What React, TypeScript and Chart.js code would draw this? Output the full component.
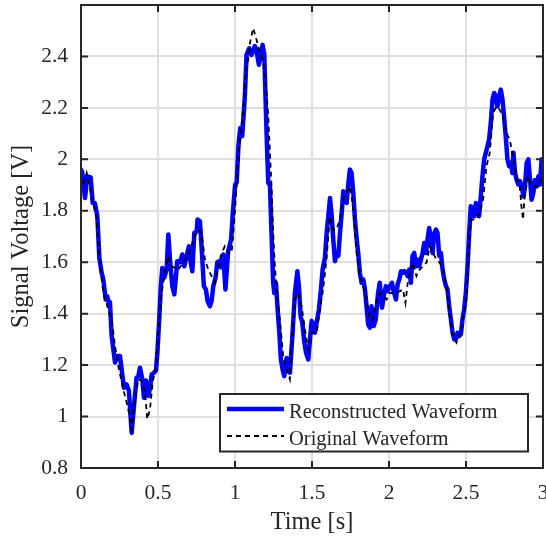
import React, { useEffect, useRef } from "react";
import { Chart, registerables } from "chart.js";

Chart.register(...registerables);

// ---- data ----
const seriesLabels = ["Reconstructed Waveform", "Original Waveform"];
const xTitle = "Time [s]";
const yTitle = "Signal Voltage [V]";
const xTicks = [0, 0.5, 1, 1.5, 2, 2.5, 3];
const yTicks = [0.8, 1, 1.2, 1.4, 1.6, 1.8, 2, 2.2, 2.4];

// [time s, voltage V]
const reconstructed: [number, number][] = [
  [0, 1.96], [0.008, 1.95], [0.026, 1.85], [0.041, 1.934], [0.063, 1.93], [0.076, 1.83], [0.09, 1.83], [0.106, 1.78],
  [0.119, 1.617], [0.134, 1.559], [0.145, 1.533], [0.16, 1.455], [0.17, 1.468], [0.18, 1.442], [0.188, 1.445], [0.199, 1.313],
  [0.221, 1.21], [0.236, 1.235], [0.253, 1.235], [0.264, 1.183], [0.279, 1.112], [0.296, 1.125], [0.311, 1.1], [0.329, 0.937],
  [0.344, 1.041], [0.361, 1.151], [0.372, 1.155], [0.383, 1.19], [0.398, 1.145], [0.409, 1.073], [0.422, 1.14], [0.437, 1.08],
  [0.448, 1.11], [0.459, 1.164], [0.474, 1.17], [0.487, 1.18], [0.496, 1.248], [0.509, 1.39], [0.517, 1.494], [0.528, 1.578],
  [0.541, 1.54], [0.556, 1.572], [0.567, 1.708], [0.578, 1.61], [0.593, 1.507], [0.606, 1.475], [0.617, 1.546], [0.625, 1.604],
  [0.643, 1.6], [0.658, 1.63], [0.671, 1.584], [0.686, 1.625], [0.701, 1.662], [0.712, 1.6], [0.723, 1.565], [0.736, 1.714],
  [0.751, 1.72], [0.757, 1.766], [0.772, 1.76], [0.783, 1.66], [0.798, 1.507], [0.811, 1.494], [0.822, 1.449], [0.837, 1.429],
  [0.848, 1.449], [0.859, 1.507], [0.874, 1.54], [0.885, 1.6], [0.898, 1.604], [0.91, 1.58], [0.924, 1.63], [0.938, 1.494],
  [0.955, 1.64], [0.975, 1.69], [0.986, 1.792], [1.001, 1.902], [1.011, 1.91], [1.022, 2.05], [1.034, 2.122], [1.047, 2.09],
  [1.064, 2.245], [1.075, 2.406], [1.092, 2.432], [1.107, 2.406], [1.129, 2.44], [1.139, 2.425], [1.155, 2.368], [1.166, 2.4],
  [1.179, 2.445], [1.19, 2.41], [1.205, 2.103], [1.216, 1.908], [1.227, 1.9], [1.237, 1.714], [1.248, 1.52], [1.255, 1.48],
  [1.266, 1.52], [1.277, 1.416], [1.288, 1.326], [1.298, 1.222], [1.309, 1.183], [1.32, 1.157], [1.335, 1.228], [1.346, 1.183],
  [1.357, 1.17], [1.374, 1.326], [1.389, 1.48], [1.405, 1.565], [1.415, 1.507], [1.426, 1.39], [1.437, 1.365], [1.448, 1.3],
  [1.461, 1.248], [1.476, 1.222], [1.487, 1.3], [1.498, 1.372], [1.509, 1.352], [1.519, 1.326], [1.53, 1.365], [1.545, 1.416],
  [1.558, 1.494], [1.569, 1.572], [1.584, 1.617], [1.595, 1.714], [1.606, 1.779], [1.617, 1.85], [1.628, 1.779], [1.638, 1.69],
  [1.649, 1.604], [1.66, 1.636], [1.671, 1.625], [1.682, 1.714], [1.693, 1.792], [1.703, 1.876], [1.714, 1.856], [1.725, 1.83],
  [1.735, 1.9], [1.746, 1.96], [1.757, 1.947], [1.768, 1.87], [1.779, 1.766], [1.79, 1.69], [1.8, 1.636], [1.811, 1.559],
  [1.822, 1.52], [1.833, 1.533], [1.844, 1.494], [1.854, 1.429], [1.865, 1.358], [1.876, 1.345], [1.886, 1.429], [1.901, 1.352],
  [1.914, 1.377], [1.929, 1.48], [1.94, 1.52], [1.955, 1.423], [1.968, 1.475], [1.98, 1.507], [1.991, 1.488], [2.006, 1.507],
  [2.019, 1.52], [2.03, 1.488], [2.045, 1.455], [2.056, 1.514], [2.067, 1.533], [2.078, 1.565], [2.088, 1.559], [2.099, 1.565],
  [2.11, 1.559], [2.121, 1.546], [2.132, 1.572], [2.142, 1.52], [2.153, 1.625], [2.164, 1.636], [2.175, 1.584], [2.186, 1.61],
  [2.196, 1.584], [2.207, 1.61], [2.218, 1.636], [2.229, 1.675], [2.24, 1.636], [2.25, 1.688], [2.261, 1.733], [2.272, 1.688],
  [2.283, 1.636], [2.294, 1.714], [2.305, 1.727], [2.315, 1.714], [2.326, 1.625], [2.337, 1.636], [2.348, 1.572], [2.359, 1.533],
  [2.37, 1.507], [2.38, 1.494], [2.391, 1.429], [2.402, 1.377], [2.413, 1.326], [2.424, 1.3], [2.434, 1.3], [2.445, 1.326],
  [2.456, 1.313], [2.467, 1.32], [2.477, 1.377], [2.488, 1.416], [2.499, 1.48], [2.51, 1.584], [2.521, 1.714], [2.531, 1.818],
  [2.542, 1.792], [2.553, 1.779], [2.564, 1.83], [2.575, 1.792], [2.585, 1.779], [2.596, 1.856], [2.607, 1.934], [2.618, 2.0],
  [2.629, 2.026], [2.639, 2.05], [2.65, 2.077], [2.661, 2.141], [2.672, 2.232], [2.683, 2.258], [2.693, 2.245], [2.704, 2.206],
  [2.715, 2.245], [2.726, 2.271], [2.737, 2.232], [2.747, 2.167], [2.758, 2.09], [2.769, 2.0], [2.78, 1.973], [2.791, 1.986],
  [2.801, 1.947], [2.808, 2.026], [2.819, 1.947], [2.829, 1.92], [2.84, 1.902], [2.851, 1.915], [2.862, 1.895], [2.873, 1.856],
  [2.883, 1.895], [2.894, 1.986], [2.905, 2.0], [2.916, 1.92], [2.926, 1.843], [2.937, 1.869], [2.948, 1.92], [2.959, 1.895],
  [2.97, 1.934], [2.98, 1.902], [2.991, 2.0], [3.0, 1.986],
];

const original: [number, number][] = [
  [0, 1.921], [0.011, 1.895], [0.037, 1.947], [0.069, 1.856], [0.102, 1.766], [0.123, 1.598], [0.145, 1.481], [0.177, 1.416],
  [0.199, 1.377], [0.221, 1.274], [0.242, 1.196], [0.275, 1.106], [0.307, 1.028], [0.329, 0.95], [0.35, 1.067], [0.372, 1.145],
  [0.394, 1.138], [0.415, 1.1], [0.43, 0.99], [0.448, 1.028], [0.465, 1.132], [0.487, 1.196], [0.502, 1.326], [0.524, 1.481],
  [0.545, 1.559], [0.567, 1.623], [0.588, 1.584], [0.61, 1.578], [0.632, 1.572], [0.664, 1.598], [0.697, 1.623], [0.729, 1.688],
  [0.761, 1.727], [0.783, 1.714], [0.805, 1.61], [0.826, 1.572], [0.848, 1.546], [0.87, 1.52], [0.891, 1.584], [0.913, 1.636],
  [0.934, 1.662], [0.956, 1.636], [0.978, 1.636], [0.989, 1.714], [0.999, 1.792], [1.01, 1.895], [1.032, 2.077], [1.053, 2.193],
  [1.075, 2.361], [1.086, 2.387], [1.097, 2.452], [1.118, 2.51], [1.14, 2.465], [1.162, 2.413], [1.183, 2.387], [1.205, 2.258],
  [1.216, 2.167], [1.226, 2.038], [1.237, 1.895], [1.248, 1.714], [1.259, 1.584], [1.27, 1.494], [1.291, 1.377], [1.313, 1.235],
  [1.335, 1.183], [1.356, 1.145], [1.367, 1.261], [1.389, 1.455], [1.41, 1.481], [1.432, 1.429], [1.454, 1.339], [1.475, 1.261],
  [1.497, 1.326], [1.53, 1.326], [1.551, 1.416], [1.572, 1.494], [1.594, 1.61], [1.616, 1.779], [1.637, 1.727], [1.659, 1.727],
  [1.681, 1.766], [1.702, 1.843], [1.724, 1.869], [1.746, 1.895], [1.767, 1.818], [1.789, 1.636], [1.811, 1.546], [1.832, 1.507],
  [1.854, 1.455], [1.875, 1.377], [1.897, 1.377], [1.919, 1.455], [1.94, 1.481], [1.962, 1.468], [1.984, 1.455], [2.005, 1.481],
  [2.027, 1.481], [2.049, 1.481], [2.091, 1.494], [2.107, 1.442], [2.124, 1.533], [2.157, 1.598], [2.178, 1.546], [2.2, 1.572],
  [2.221, 1.584], [2.243, 1.598], [2.265, 1.662], [2.286, 1.636], [2.308, 1.61], [2.33, 1.598], [2.351, 1.572], [2.373, 1.507],
  [2.395, 1.39], [2.416, 1.313], [2.438, 1.287], [2.459, 1.313], [2.481, 1.377], [2.503, 1.455], [2.524, 1.714], [2.535, 1.766],
  [2.568, 1.766], [2.589, 1.792], [2.611, 1.843], [2.633, 1.973], [2.654, 2.025], [2.676, 2.18], [2.698, 2.206], [2.719, 2.193],
  [2.741, 2.167], [2.762, 2.103], [2.784, 2.077], [2.805, 2.012], [2.827, 1.934], [2.849, 1.895], [2.86, 1.818], [2.87, 1.766],
  [2.881, 1.856], [2.903, 1.934], [2.925, 1.895], [2.946, 1.895], [2.968, 1.895], [2.99, 1.921], [3.0, 1.934],
];

const FONT = '"Liberation Serif", "Times New Roman", serif';
const INK = "#262626";
const BLUE = "#0000ff";
const DASH = [5, 4];

const zeroPadding = (scale: any) => {
  scale.paddingLeft = 0;
  scale.paddingRight = 0;
  scale.paddingTop = 0;
  scale.paddingBottom = 0;
};

const framePlugin = {
  id: "frameTicks",
  afterDatasetsDraw(chart: any) {
    const { ctx, chartArea: a, scales } = chart;
    ctx.save();
    ctx.strokeStyle = INK;
    ctx.lineWidth = 2;
    ctx.setLineDash([]);
    const L = 7;
    ctx.beginPath();
    xTicks.forEach((v) => {
      const x = scales.x.getPixelForValue(v);
      ctx.moveTo(x, a.bottom);
      ctx.lineTo(x, a.bottom - L);
      ctx.moveTo(x, a.top);
      ctx.lineTo(x, a.top + L);
    });
    yTicks.forEach((v) => {
      const y = scales.y.getPixelForValue(v);
      ctx.moveTo(a.left, y);
      ctx.lineTo(a.left + L, y);
      ctx.moveTo(a.right, y);
      ctx.lineTo(a.right - L, y);
    });
    ctx.stroke();
    ctx.strokeRect(a.left, a.top, a.right - a.left, a.bottom - a.top);
    ctx.restore();
  },
  afterDraw(chart: any) {
    const { ctx, chartArea: a } = chart;
    const boxW = 308;
    const boxH = 57.5;
    const bx = a.right - 15 - boxW;
    const by = a.bottom - 16.5 - boxH;
    ctx.save();
    ctx.fillStyle = "#ffffff";
    ctx.fillRect(bx, by, boxW, boxH);
    ctx.strokeStyle = INK;
    ctx.lineWidth = 2;
    ctx.setLineDash([]);
    ctx.strokeRect(bx, by, boxW, boxH);
    const lx0 = bx + 7;
    const lx1 = bx + 64;
    ctx.strokeStyle = BLUE;
    ctx.lineWidth = 4.5;
    ctx.beginPath();
    ctx.moveTo(lx0, by + 15);
    ctx.lineTo(lx1, by + 15);
    ctx.stroke();
    ctx.strokeStyle = "#000000";
    ctx.lineWidth = 1.8;
    ctx.setLineDash(DASH);
    ctx.beginPath();
    ctx.moveTo(lx0, by + 42);
    ctx.lineTo(lx1, by + 42);
    ctx.stroke();
    ctx.setLineDash([]);
    ctx.fillStyle = INK;
    ctx.font = `20.5px ${FONT}`;
    ctx.textAlign = "left";
    ctx.textBaseline = "alphabetic";
    ctx.fillText(seriesLabels[0], bx + 69, by + 24);
    ctx.fillText(seriesLabels[1], bx + 69, by + 51);
    ctx.restore();
  },
};

export default function App() {
  const canvasRef = useRef<HTMLCanvasElement | null>(null);

  useEffect(() => {
    if (!canvasRef.current) return;
    const chart = new Chart(canvasRef.current, {
      type: "line",
      data: {
        datasets: [
          {
            label: seriesLabels[0],
            data: reconstructed.map(([x, y]) => ({ x, y })),
            borderColor: BLUE,
            borderWidth: 4.5,
            borderJoinStyle: "round",
            borderCapStyle: "round",
            pointRadius: 0,
            tension: 0,
            fill: false,
            order: 1,
          },
          {
            label: seriesLabels[1],
            data: original.map(([x, y]) => ({ x, y })),
            borderColor: "#000000",
            borderWidth: 1.8,
            borderDash: DASH,
            pointRadius: 0,
            tension: 0,
            fill: false,
            order: 0,
          },
        ],
      },
      options: {
        animation: false,
        responsive: true,
        maintainAspectRatio: false,
        devicePixelRatio: 1,
        layout: { padding: { left: 0, right: 3, top: 5, bottom: 0 } },
        plugins: { legend: { display: false }, tooltip: { enabled: false } },
        scales: {
          x: {
            type: "linear",
            min: 0,
            max: 3,
            afterBuildTicks: (scale: any) => {
              scale.ticks = xTicks.map((value) => ({ value }));
            },
            afterFit: (scale: any) => {
              scale.height = 71;
              zeroPadding(scale);
            },
            grid: { color: "#dfdfdf", lineWidth: 2, drawTicks: false },
            border: { display: false },
            ticks: {
              padding: 12,
              color: INK,
              font: { family: FONT, size: 21.5 },
              maxRotation: 0,
              callback: (v: any) => String(v),
            },
            title: {
              display: true,
              text: xTitle,
              color: INK,
              font: { family: FONT, size: 24.5 },
              padding: { top: 0, bottom: 2 },
            },
          },
          y: {
            type: "linear",
            min: 0.8,
            max: 2.6,
            afterBuildTicks: (scale: any) => {
              scale.ticks = yTicks.map((value) => ({ value }));
            },
            afterFit: (scale: any) => {
              scale.width = 81;
              zeroPadding(scale);
            },
            grid: { color: "#dfdfdf", lineWidth: 2, drawTicks: false },
            border: { display: false },
            ticks: {
              padding: 13,
              color: INK,
              font: { family: FONT, size: 21.5 },
              callback: (v: any) => String(v),
            },
            title: {
              display: true,
              text: yTitle,
              color: INK,
              font: { family: FONT, size: 24.5 },
              padding: { top: 7, bottom: 0 },
            },
          },
        },
      },
      plugins: [framePlugin],
    } as any);
    return () => chart.destroy();
  }, []);

  return (
    <div style={{ position: "fixed", left: 0, top: 0, width: 546, height: 539, background: "#ffffff" }}>
      <canvas ref={canvasRef} />
    </div>
  );
}
